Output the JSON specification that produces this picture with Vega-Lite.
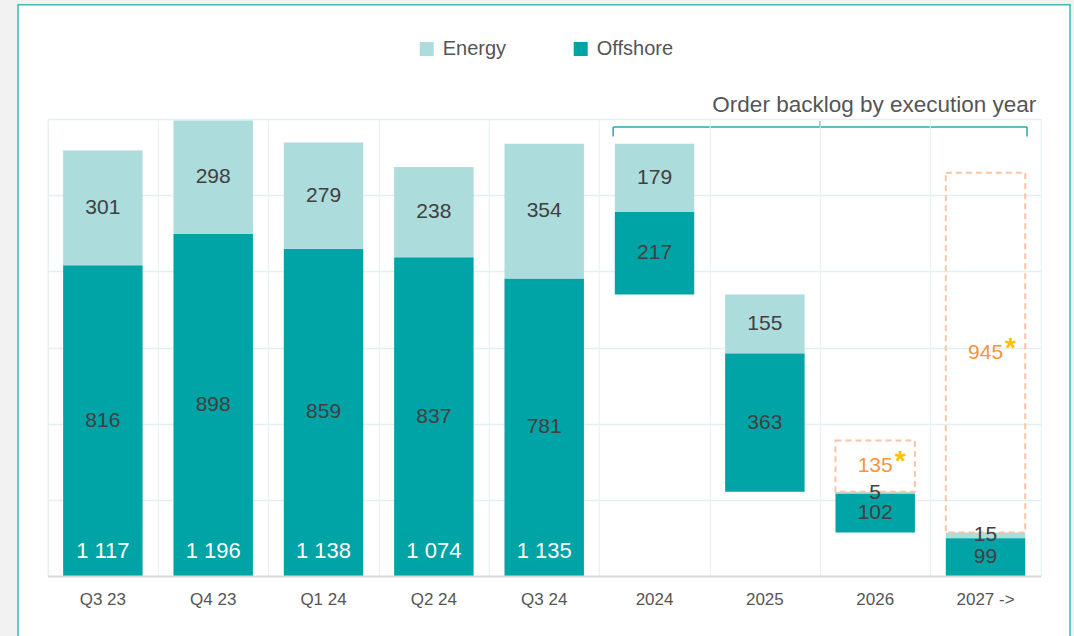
{
  "$schema": "https://vega.github.io/schema/vega-lite/v6.json",
  "width": 993,
  "height": 457,
  "autosize": {"type": "none"},
  "padding": {"left": 47.7, "top": 119, "right": 33.3, "bottom": 60},
  "background": "white",
  "config": {
    "view": {"stroke": "#e2f0f0", "strokeWidth": 1},
    "font": "Liberation Sans"
  },
  "datasets": {
    "segments": [
      {"cat": "Q3 23", "series": "Offshore", "lo": 0, "hi": 816, "label": "816"},
      {"cat": "Q3 23", "series": "Energy", "lo": 816, "hi": 1117, "label": "301"},
      {"cat": "Q4 23", "series": "Offshore", "lo": 0, "hi": 898, "label": "898"},
      {"cat": "Q4 23", "series": "Energy", "lo": 898, "hi": 1196, "label": "298"},
      {"cat": "Q1 24", "series": "Offshore", "lo": 0, "hi": 859, "label": "859"},
      {"cat": "Q1 24", "series": "Energy", "lo": 859, "hi": 1138, "label": "279"},
      {"cat": "Q2 24", "series": "Offshore", "lo": 0, "hi": 837, "label": "837"},
      {"cat": "Q2 24", "series": "Energy", "lo": 837, "hi": 1074, "label": "238"},
      {"cat": "Q3 24", "series": "Offshore", "lo": 0, "hi": 781, "label": "781"},
      {"cat": "Q3 24", "series": "Energy", "lo": 781, "hi": 1135, "label": "354"},
      {"cat": "2024", "series": "Energy", "lo": 956, "hi": 1135, "label": "179"},
      {"cat": "2024", "series": "Offshore", "lo": 739, "hi": 956, "label": "217"},
      {"cat": "2025", "series": "Energy", "lo": 584, "hi": 739, "label": "155"},
      {"cat": "2025", "series": "Offshore", "lo": 221, "hi": 584, "label": "363"},
      {"cat": "2026", "series": "Energy", "lo": 216, "hi": 221, "label": "5"},
      {"cat": "2026", "series": "Offshore", "lo": 114, "hi": 216, "label": "102"},
      {"cat": "2027 ->", "series": "Energy", "lo": 99, "hi": 114, "label": "15"},
      {"cat": "2027 ->", "series": "Offshore", "lo": 0, "hi": 99, "label": "99"}
    ],
    "totals": [
      {"cat": "Q3 23", "label": "1 117"},
      {"cat": "Q4 23", "label": "1 196"},
      {"cat": "Q1 24", "label": "1 138"},
      {"cat": "Q2 24", "label": "1 074"},
      {"cat": "Q3 24", "label": "1 135"}
    ],
    "unsecured": [
      {"cat": "2026", "lo": 221, "hi": 356, "label": "135"},
      {"cat": "2027 ->", "lo": 114, "hi": 1059, "label": "945"}
    ],
    "one": [{"note": "decoration"}]
  },
  "layer": [
    {
      "data": {"name": "one"},
      "mark": {"type": "rect", "filled": false, "stroke": "#f2f2f2", "strokeWidth": 40},
      "encoding": {
        "x": {"datum": "Q3 23", "type": "nominal", "bandPosition": -0.451},
        "x2": {"datum": "2027 ->", "bandPosition": 1.447},
        "y": {"datum": 1552, "type": "quantitative"},
        "y2": {"datum": -400}
      }
    },
    {
      "data": {"name": "one"},
      "mark": {"type": "rect", "filled": false, "stroke": "#3fb8b8", "strokeWidth": 1.5},
      "encoding": {
        "x": {"datum": "Q3 23", "type": "nominal", "bandPosition": -0.269},
        "x2": {"datum": "2027 ->", "bandPosition": 1.266},
        "y": {"datum": 1500, "type": "quantitative"},
        "y2": {"datum": -400}
      }
    },
    {
      "data": {"name": "segments"},
      "mark": {"type": "bar", "width": {"band": 0.72}},
      "encoding": {
        "x": {
          "field": "cat",
          "type": "nominal",
          "scale": {
            "domain": ["Q3 23", "Q4 23", "Q1 24", "Q2 24", "Q3 24", "2024", "2025", "2026", "2027 ->"],
            "paddingInner": 0,
            "paddingOuter": 0
          },
          "axis": {
            "title": null,
            "bandPosition": 0,
            "labelOffset": 0,
            "labelAlign": "center",
            "labelAngle": 0,
            "labelFontSize": 17,
            "labelColor": "#555555",
            "labelPadding": 23,
            "ticks": false,
            "domainColor": "#d9d9d9",
            "domainWidth": 2,
            "grid": true,
            "gridColor": "#e2f0f0",
            "gridWidth": 1
          }
        },
        "y": {
          "field": "lo",
          "type": "quantitative",
          "scale": {"domain": [0, 1200], "nice": false},
          "axis": {
            "title": null,
            "labels": false,
            "ticks": false,
            "domain": false,
            "grid": true,
            "gridColor": "#e2f0f0",
            "gridWidth": 1.5,
            "values": [200, 400, 600, 800, 1000, 1200]
          }
        },
        "y2": {"field": "hi"},
        "color": {
          "field": "series",
          "type": "nominal",
          "scale": {"domain": ["Energy", "Offshore"], "range": ["#acdcdc", "#00a3a6"]},
          "legend": {
            "title": null,
            "orient": "none",
            "direction": "horizontal",
            "legendX": 369,
            "legendY": -80,
            "padding": 0,
            "symbolType": "square",
            "symbolSize": 196,
            "symbolStrokeWidth": 0,
            "symbolOpacity": 1,
            "labelFontSize": 20,
            "labelColor": "#555555",
            "labelOffset": 6,
            "columnPadding": 64
          }
        }
      }
    },
    {
      "data": {"name": "unsecured"},
      "mark": {"type": "bar", "width": {"band": 0.72}, "fillOpacity": 0, "stroke": "#f8c4a6", "strokeWidth": 2, "strokeDash": [6, 4]},
      "encoding": {
        "x": {"field": "cat", "type": "nominal"},
        "y": {"field": "lo", "type": "quantitative"},
        "y2": {"field": "hi"}
      }
    },
    {
      "data": {"name": "segments"},
      "transform": [{"calculate": "(datum.lo + datum.hi) / 2", "as": "mid"}],
      "mark": {"type": "text", "fontSize": 21, "color": "#404040", "baseline": "middle"},
      "encoding": {
        "x": {"field": "cat", "type": "nominal"},
        "y": {"field": "mid", "type": "quantitative"},
        "text": {"field": "label"}
      }
    },
    {
      "data": {"name": "totals"},
      "mark": {"type": "text", "fontSize": 22, "color": "white", "baseline": "alphabetic", "dy": -18},
      "encoding": {
        "x": {"field": "cat", "type": "nominal"},
        "y": {"datum": 0, "type": "quantitative"},
        "text": {"field": "label"}
      }
    },
    {
      "data": {"name": "unsecured"},
      "transform": [{"calculate": "(datum.lo + datum.hi) / 2", "as": "mid"}],
      "mark": {"type": "text", "fontSize": 21, "color": "#f7943c", "baseline": "middle"},
      "encoding": {
        "x": {"field": "cat", "type": "nominal"},
        "y": {"field": "mid", "type": "quantitative"},
        "text": {"field": "label"}
      }
    },
    {
      "data": {"name": "unsecured"},
      "transform": [{"calculate": "(datum.lo + datum.hi) / 2", "as": "mid"}],
      "mark": {"type": "text", "text": "*", "fontSize": 28, "fontWeight": "bold", "color": "#ffc000", "baseline": "middle", "dx": 25, "dy": -4},
      "encoding": {
        "x": {"field": "cat", "type": "nominal"},
        "y": {"field": "mid", "type": "quantitative"}
      }
    },
    {
      "data": {"name": "one"},
      "mark": {"type": "rule", "color": "#2aa9a9", "strokeWidth": 1.5},
      "encoding": {
        "x": {"datum": "2024", "type": "nominal", "bandPosition": 0.125},
        "x2": {"datum": "2027 ->", "bandPosition": 0.876},
        "y": {"datum": 1179, "type": "quantitative"}
      }
    },
    {
      "data": {"name": "one"},
      "mark": {"type": "rule", "color": "#2aa9a9", "strokeWidth": 1.5},
      "encoding": {
        "x": {"datum": "2024", "type": "nominal", "bandPosition": 0.125},
        "y": {"datum": 1179, "type": "quantitative"},
        "y2": {"datum": 1154}
      }
    },
    {
      "data": {"name": "one"},
      "mark": {"type": "rule", "color": "#2aa9a9", "strokeWidth": 1.5},
      "encoding": {
        "x": {"datum": "2027 ->", "type": "nominal", "bandPosition": 0.876},
        "y": {"datum": 1179, "type": "quantitative"},
        "y2": {"datum": 1154}
      }
    },
    {
      "data": {"name": "one"},
      "mark": {"type": "rule", "color": "#2aa9a9", "strokeWidth": 1.5},
      "encoding": {
        "x": {"datum": "2026", "type": "nominal", "bandPosition": 0},
        "y": {"datum": 1179, "type": "quantitative"},
        "y2": {"datum": 1195}
      }
    },
    {
      "data": {"name": "one"},
      "mark": {"type": "text", "text": "Order backlog by execution year", "fontSize": 22.5, "color": "#555555", "align": "right", "baseline": "alphabetic"},
      "encoding": {
        "x": {"datum": "2027 ->", "type": "nominal", "bandPosition": 0.96},
        "y": {"datum": 1219, "type": "quantitative"}
      }
    }
  ]
}
